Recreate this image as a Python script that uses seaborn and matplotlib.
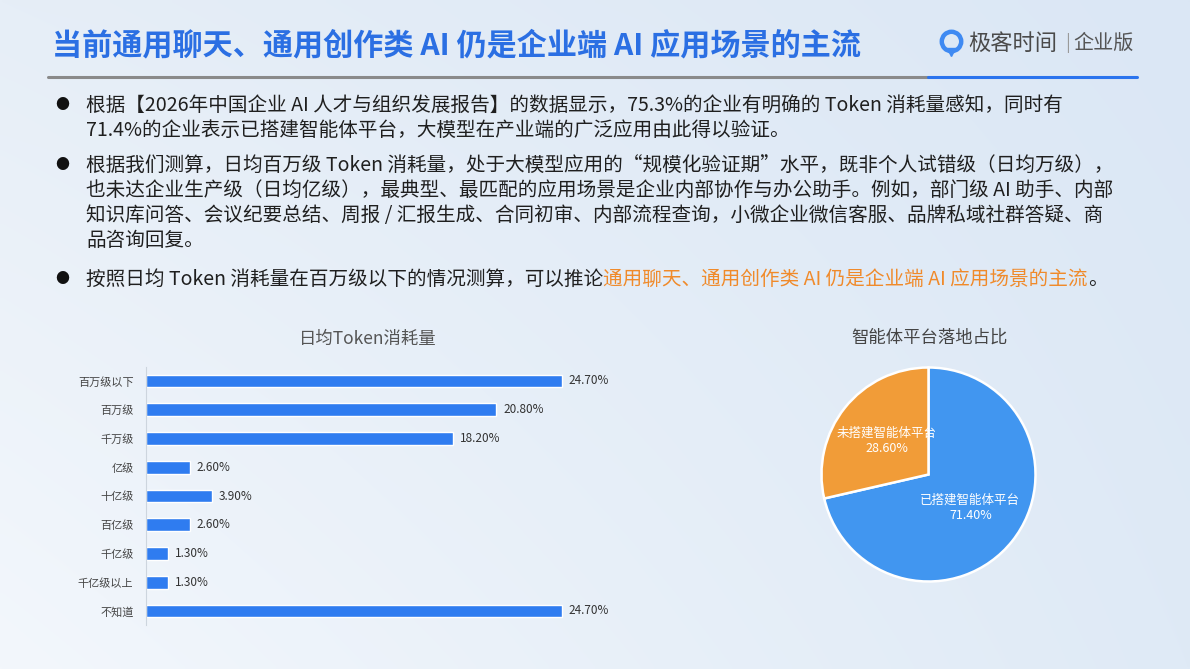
import numpy as np
import matplotlib
matplotlib.use("Agg")
import matplotlib.pyplot as plt
import seaborn as sns

# ---- data ----
token_levels = ['百万级以下', '百万级', '千万级', '亿级', '十亿级', '百亿级', '千亿级', '千亿级以上', '不知道']
token_share = [24.7, 20.8, 18.2, 2.6, 3.9, 2.6, 1.3, 1.3, 24.7]

agent_labels = ['已搭建智能体平台', '未搭建智能体平台']
agent_share = [71.4, 28.6]

page_title = '当前通用聊天、通用创作类 AI 仍是企业端 AI 应用场景的主流'
bar_title = '日均Token消耗量'
pie_title = '智能体平台落地占比'

bullet1 = ['根据【2026年中国企业 AI 人才与组织发展报告】的数据显示，75.3%的企业有明确的 Token 消耗量感知，同时有',
           '71.4%的企业表示已搭建智能体平台，大模型在产业端的广泛应用由此得以验证。']
bullet2 = ['根据我们测算，日均百万级 Token 消耗量，处于大模型应用的“规模化验证期”水平，既非个人试错级（日均万级），',
           '也未达企业生产级（日均亿级），最典型、最匹配的应用场景是企业内部协作与办公助手。例如，部门级 AI 助手、内部',
           '知识库问答、会议纪要总结、周报 / 汇报生成、合同初审、内部流程查询，小微企业微信客服、品牌私域社群答疑、商',
           '品咨询回复。']
bullet3 = ['按照日均 Token 消耗量在百万级以下的情况测算，可以推论',
           '通用聊天、通用创作类 AI 仍是企业端 AI 应用场景的主流',
           '。']

sns.set_style('white')
plt.rcParams['font.family'] = ['Noto Sans CJK SC', 'DejaVu Sans']

W, H = 1190, 669
fig = plt.figure(figsize=(W / 100, H / 100), dpi=100)

# background gradient
bg = fig.add_axes([0, 0, 1, 1], zorder=-10)
tl, tr = np.array([230, 238, 247]), np.array([219, 231, 245])
bl, br = np.array([243, 247, 252]), np.array([223, 234, 246])
xs = np.linspace(0, 1, 240)[None, :, None]
ys = np.linspace(0, 1, 140)[:, None, None]
grad = (tl * (1 - xs) + tr * xs) * (1 - ys) + (bl * (1 - xs) + br * xs) * ys
bg.imshow(grad / 255.0, aspect='auto', extent=[0, 1, 0, 1], interpolation='bilinear')
bg.set_axis_off()


def fx(px):
    return px / W


def fy(py):
    return 1 - py / H


# ---- header ----
fig.text(fx(52), fy(45), page_title, fontsize=21.7, fontweight='bold',
         color='#2b6fe3', va='center', ha='left')
fig.add_artist(plt.Line2D([fx(48), fx(928)], [fy(77), fy(77)], color='#8a8a8a', lw=2.2))
fig.add_artist(plt.Line2D([fx(928), fx(1137)], [fy(77), fy(77)], color='#2b74ee', lw=2.2))

# logo
fig.add_artist(plt.Line2D([fx(951)], [fy(41)], marker='o', markersize=14, mfc='none',
                          mec='#3f8af2', mew=3.2))
fig.add_artist(plt.Line2D([fx(951)], [fy(52)], marker='v', markersize=6, color='#3f8af2'))
fig.text(fx(968), fy(43), '极客时间', fontsize=16, color='#4a4a4a', va='center', ha='left')
fig.text(fx(1068), fy(43), '|', fontsize=13, color='#9a9a9a', va='center', ha='center')
fig.text(fx(1073), fy(43), '企业版', fontsize=14.5, color='#555555', va='center', ha='left')

# ---- bullets ----
body_fs = 14.1
line_gap = 25.3
body_color = '#1f1f1f'


def bullet_block(lines, y0):
    fig.text(fx(62), fy(y0), '●', fontsize=10, color='#111111', va='center', ha='center')
    for i, ln in enumerate(lines):
        fig.text(fx(86), fy(y0 + i * line_gap), ln, fontsize=body_fs, color=body_color,
                 va='center', ha='left')


bullet_block(bullet1, 105)
bullet_block(bullet2, 165)

fig.text(fx(62), fy(279), '●', fontsize=10, color='#111111', va='center', ha='center')
renderer = fig.canvas.get_renderer()
x_cur = 86
seg_colors = [body_color, '#f08a2a', body_color]
for seg, col in zip(bullet3, seg_colors):
    t = fig.text(fx(x_cur), fy(279), seg, fontsize=body_fs, color=col, va='center', ha='left')
    x_cur = t.get_window_extent(renderer=renderer).x1

# ---- bar chart ----
bar_left, bar_end = 146, 562
xmax = 28.2
ax_w = (bar_end - bar_left) * xmax / token_share[0]
row_top, row_bot = 381, 611
step = (row_bot - row_top) / (len(token_levels) - 1)
ax1 = fig.add_axes([fx(bar_left), fy(row_bot + step / 2), fx(ax_w), (row_bot - row_top + step) / H])
sns.barplot(x=token_share, y=token_levels, orient='h', color='#2f7cf0', width=0.44,
            saturation=1, ax=ax1)
ax1.set_xlim(0, xmax)
ax1.set_ylim(len(token_levels) - 0.5, -0.5)
ax1.bar_label(ax1.containers[0], labels=[f'{v:.2f}%' for v in token_share],
              padding=5, fontsize=8.5, color='#333333')
ax1.set_facecolor('none')
for s in ['top', 'right', 'bottom']:
    ax1.spines[s].set_visible(False)
ax1.spines['left'].set_color('#cdd5de')
ax1.spines['left'].set_linewidth(0.8)
ax1.set_xticks([])
ax1.set_xlabel('')
ax1.set_ylabel('')
ax1.tick_params(axis='y', length=0, pad=9, labelsize=8, labelcolor='#444444')
fig.text(fx(368), fy(339), bar_title, fontsize=12.5, color='#555555', ha='center', va='center')

# ---- pie chart ----
cx, cy, r = 928.5, 474.5, 107
half = 115
ax2 = fig.add_axes([fx(cx - half), fy(cy + half), fx(2 * half), 2 * half / H])
wedges, _ = ax2.pie(agent_share, colors=['#4196f0', '#f19c38'], startangle=90,
                    counterclock=False, wedgeprops=dict(edgecolor='white', linewidth=1.8))
lim = half / r
ax2.set_xlim(-lim, lim)
ax2.set_ylim(-lim, lim)
for w, name, v in zip(wedges, agent_labels, agent_share):
    ang = np.deg2rad((w.theta1 + w.theta2) / 2)
    ax2.text(0.5 * np.cos(ang), 0.5 * np.sin(ang), f'{name}\n{v:.2f}%', color='white',
             fontsize=9, ha='center', va='center', linespacing=1.25)
fig.text(fx(929), fy(338), pie_title, fontsize=12.5, color='#444444', ha='center', va='center')

fig.savefig('out.png', dpi=100)
